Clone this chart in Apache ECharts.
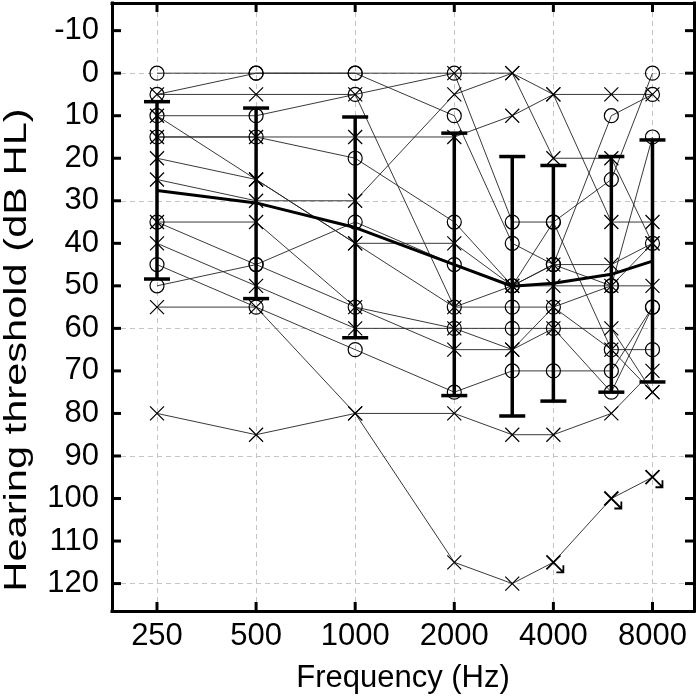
<!DOCTYPE html>
<html><head><meta charset="utf-8">
<script src="https://cdn.jsdelivr.net/npm/echarts@6/dist/echarts.min.js"></script>
<style>html,body{margin:0;padding:0;background:#fff}#c{width:700px;height:699px}</style>
</head><body><div id="c"></div>
<script>
// ---- data (dB HL), frequencies in Hz ----
const freqs = [250, 500, 1000, 2000, 3000, 4000, 6000, 8000];
const tickFreqs = [250, 500, 1000, 2000, 4000, 8000];
const yTicks = [-10, 0, 10, 20, 30, 40, 50, 60, 70, 80, 90, 100, 110, 120];

// right ears (circles)
const rightA = [0, 0, 0, 0, 35, 35, 25, 0];
const rightB = [5, 0, 0, 10, 40, 45, 10, 5];
const rightC = [10, 10, 5, 55, 55, 55, 50, 15];
const rightD = [15, 15, 20, 35, 50, 45, 50, 40];
const rightE = [50, 45, 35, 45, 50, 35, 65, 65];
const rightF = [35, 45, 55, 60, 60, 60, 75, 55];
const rightG = [45, 55, 65, 75, 70, 70, 70, 55];

// left ears (crosses)
const leftA = [80, 85, 80, 80, 85, 85, 80, 70];
const leftB = [55, 55, 80, 115, 120, 115, 100, 95];
const leftC = [5, 5, 5, 0, 0, 5, 5, 5];
const leftD = [10, 25, 40, 40, 50, 50, 50, 50];
const leftE = [15, 15, 15, 15, 10, 5, 35, 35];
const leftF = [20, 25, 40, 55, 50, 45, 45, 40];
const leftG = [25, 30, 30, 5, 0, 20, 20, 40];
const leftH = [35, 35, 55, 65, 65, 60, 60, 75];
const leftI = [40, 50, 60, 60, 65, 55, 65, 75];
const noResponseLeftB = [false, false, false, false, false, true, true, true];

// group mean and +/- 1 SD limits
const meanHL = [27.6, 30.5, 36.3, 45.0, 50.1, 49.4, 47.3, 44.2];
const sdLow = [6.7, 8.2, 10.3, 14.1, 19.6, 21.7, 19.6, 15.7];
const sdHigh = [48.4, 53.0, 62.2, 75.8, 80.6, 77.1, 75.0, 72.6];

const rightEars = [rightA, rightB, rightC, rightD, rightE, rightF, rightG];
const leftEars = [leftA, leftB, leftC, leftD, leftE, leftF, leftG, leftH, leftI];

// ---- chart ----
const FONT = '"Liberation Sans", Arial, sans-serif';
const oct = f => Math.log2(f / 250);
const X_MIN = -0.454, X_MAX = 5.419, Y_MIN = -16.5, Y_MAX = 126.45;
const tickOcts = tickFreqs.map(oct);
const CROSS = 'path://M0,0L10,10M10,0L0,10';
const ARROW = 'path://M-7,-7L10,10M7,-7L-7,7M10,3L10,10L3,10';
const TICK_LEN = 9;

function subjectSeries(vals, sym, noResp) {
  return {
    type: 'line', xAxisIndex: 0, yAxisIndex: 0,
    data: vals.map((v, i) => {
      const item = { value: [oct(freqs[i]), v] };
      if (noResp && noResp[i]) {
        item.symbol = ARROW; item.symbolSize = 17; item.symbolOffset = [1.5, 1.5];
        item.itemStyle = { color: 'rgba(0,0,0,0)', borderColor: '#000', borderWidth: 1.8 };
      }
      return item;
    }),
    symbol: sym, symbolSize: 14,
    itemStyle: { color: 'rgba(0,0,0,0)', borderColor: '#000', borderWidth: 1.2 },
    lineStyle: { color: '#222', width: 0.9 },
    emphasis: { disabled: true }, silent: true, z: 2, animation: false
  };
}

const series = [];
rightEars.forEach(v => series.push(subjectSeries(v, 'circle')));
leftEars.forEach(v => series.push(subjectSeries(v, CROSS, v === leftB ? noResponseLeftB : null)));

series.push({
  type: 'custom', xAxisIndex: 0, yAxisIndex: 0, silent: true, z: 4, animation: false,
  encode: { x: 0, y: [1, 2] },
  data: freqs.map((f, i) => [oct(f), sdLow[i], sdHigh[i]]),
  renderItem: (params, api) => {
    const x = api.value(0);
    const p1 = api.coord([x, api.value(1)]);
    const p2 = api.coord([x, api.value(2)]);
    const w = 13;
    const style = { stroke: '#000', lineWidth: 3.5, fill: null };
    return { type: 'group', children: [
      { type: 'line', shape: { x1: p1[0], y1: p1[1], x2: p2[0], y2: p2[1] }, style },
      { type: 'line', shape: { x1: p1[0] - w, y1: p1[1], x2: p1[0] + w, y2: p1[1] }, style },
      { type: 'line', shape: { x1: p2[0] - w, y1: p2[1], x2: p2[0] + w, y2: p2[1] }, style }
    ] };
  }
});

series.push({
  type: 'line', xAxisIndex: 0, yAxisIndex: 0, silent: true, z: 5, animation: false,
  data: freqs.map((f, i) => [oct(f), meanHL[i]]),
  symbol: 'none', lineStyle: { color: '#000', width: 3 }
});

// inward ticks on all four sides of the frame
series.push({
  type: 'custom', xAxisIndex: 0, yAxisIndex: 0, silent: true, z: 6, animation: false, clip: false,
  encode: { x: 0, y: 1 },
  data: tickOcts.map(v => [v, 50]),
  renderItem: (params, api) => {
    const x = api.coord([api.value(0), 50])[0];
    const top = api.coord([0, Y_MIN])[1], bot = api.coord([0, Y_MAX])[1];
    const st = { stroke: '#000', lineWidth: 3, fill: null };
    return { type: 'group', children: [
      { type: 'line', shape: { x1: x, y1: top, x2: x, y2: top + TICK_LEN }, style: st },
      { type: 'line', shape: { x1: x, y1: bot, x2: x, y2: bot - TICK_LEN }, style: st }
    ] };
  }
});
series.push({
  type: 'custom', xAxisIndex: 0, yAxisIndex: 0, silent: true, z: 6, animation: false, clip: false,
  encode: { x: 0, y: 1 },
  data: yTicks.map(v => [2, v]),
  renderItem: (params, api) => {
    const y = api.coord([2, api.value(1)])[1];
    const l = api.coord([X_MIN, 0])[0], r = api.coord([X_MAX, 0])[0];
    const st = { stroke: '#000', lineWidth: 3, fill: null };
    return { type: 'group', children: [
      { type: 'line', shape: { x1: l, y1: y, x2: l + TICK_LEN, y2: y }, style: st },
      { type: 'line', shape: { x1: r, y1: y, x2: r - TICK_LEN, y2: y }, style: st }
    ] };
  }
});

const frameLine = { show: true, onZero: false, lineStyle: { color: '#000', width: 3, cap: 'square' } };
const gridLine = { show: true, lineStyle: { color: '#c4c4c4', type: [5, 4], width: 1 } };
const labelFont = { fontSize: 31, color: '#000', fontFamily: FONT };

const option = {
  animation: false,
  backgroundColor: '#fff',
  grid: { left: 112, right: 6, top: 3, bottom: 87, show: false },
  xAxis: [
    { type: 'value', position: 'bottom', min: X_MIN, max: X_MAX,
      axisLine: frameLine,
      axisTick: { show: false },
      axisLabel: Object.assign({ customValues: tickOcts, margin: 10,
        formatter: v => String(Math.round(250 * Math.pow(2, v))) }, labelFont),
      splitLine: gridLine,
      name: 'Frequency (Hz)', nameLocation: 'middle', nameGap: 52,
      nameTextStyle: labelFont },
    { type: 'value', position: 'top', min: X_MIN, max: X_MAX,
      axisLine: frameLine, axisTick: { show: false },
      axisLabel: { show: false }, splitLine: { show: false } }
  ],
  yAxis: [
    { type: 'value', inverse: true, position: 'left', min: Y_MIN, max: Y_MAX,
      axisLine: frameLine,
      axisTick: { show: false },
      axisLabel: Object.assign({ customValues: yTicks, margin: 13 }, labelFont),
      splitLine: gridLine },
    { type: 'value', inverse: true, position: 'right', min: Y_MIN, max: Y_MAX,
      axisLine: frameLine, axisTick: { show: false },
      axisLabel: { show: false }, splitLine: { show: false } }
  ],
  graphic: [{
    type: 'text', x: 17, y: 350, rotation: Math.PI / 2, scaleX: 1.3,
    style: { text: 'Hearing threshold (dB HL)', font: '32px "Liberation Sans", Arial, sans-serif', fill: '#000', align: 'center', verticalAlign: 'middle' }
  }],
  series
};

const chart = echarts.init(document.getElementById('c'), null, { renderer: 'canvas' });
chart.setOption(option);
</script>
</body></html>
